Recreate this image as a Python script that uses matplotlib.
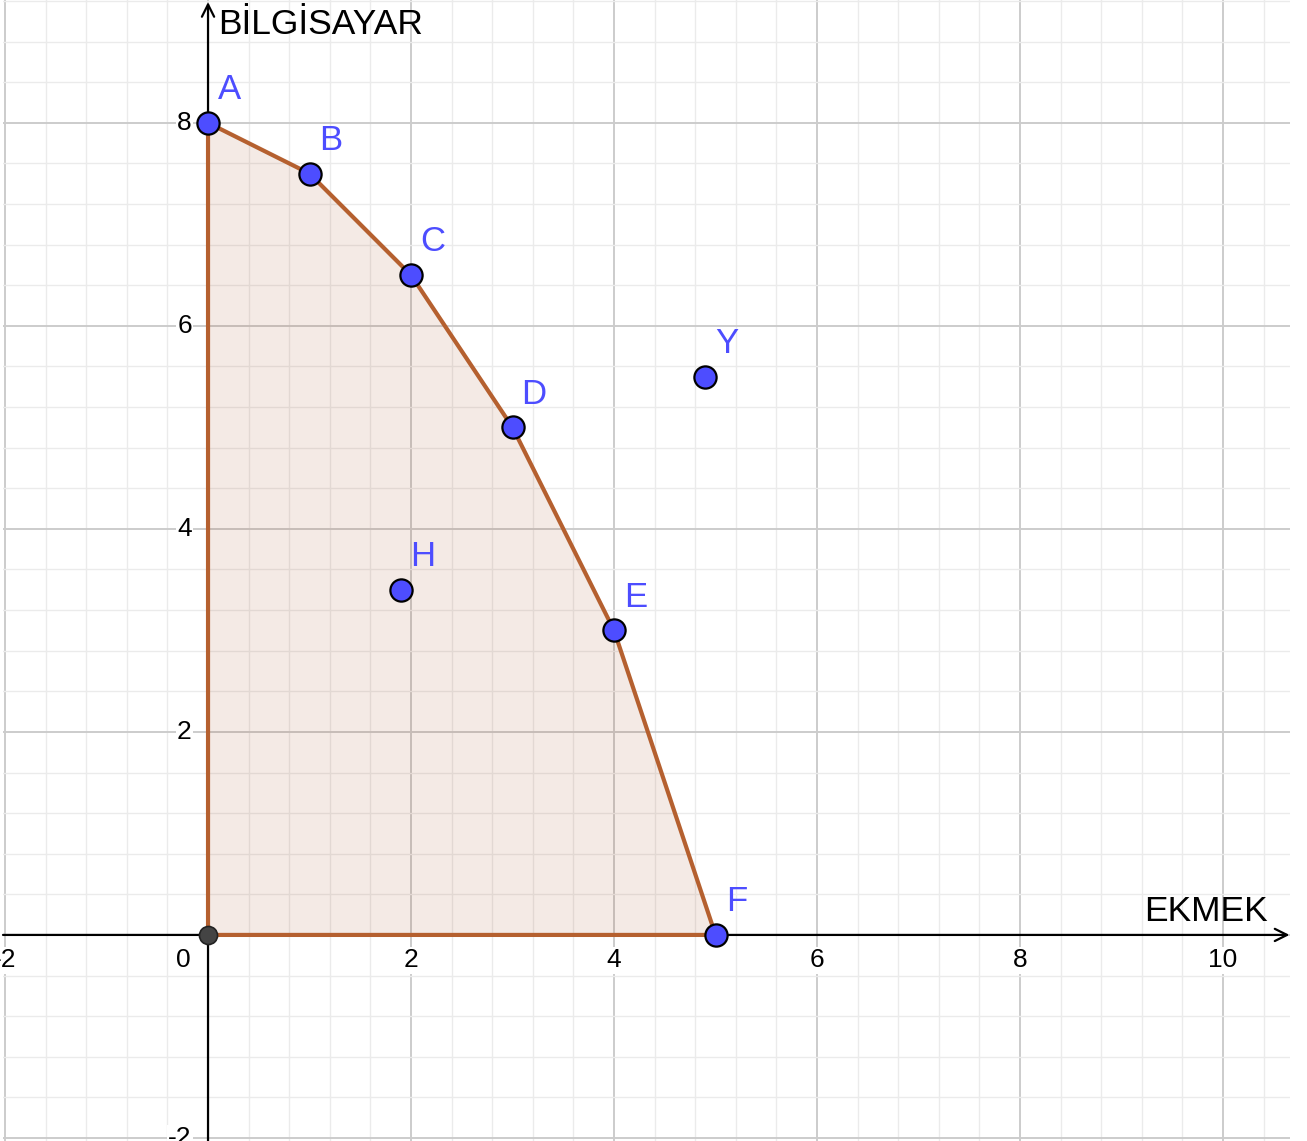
import matplotlib
matplotlib.use("Agg")
import matplotlib.pyplot as plt
from matplotlib.ticker import MultipleLocator
import numpy as np

# ---- data ----
frontier_labels = ["A", "B", "C", "D", "E", "F"]
frontier_x = [0, 1, 2, 3, 4, 5]
frontier_y = [8, 7.5, 6.5, 5, 3, 0]
extra_labels = ["H", "Y"]
extra_x = [1.9, 4.9]
extra_y = [3.4, 5.5]
origin = (0, 0)
x_tick_labels = [-2, 0, 2, 4, 6, 8, 10]
y_tick_labels = [-2, 2, 4, 6, 8]
x_axis_title = "EKMEK"
y_axis_title = "BİLGİSAYAR"

plt.rcParams['font.family'] = ['Liberation Sans', 'DejaVu Sans']

W, H = 1307, 1141
fig = plt.figure(figsize=(W / 100, H / 100), dpi=100)
ax = fig.add_axes([3 / W, 0, 1287 / W, 1])
ax.set_xlim(-2.02, 10.66)
ax.set_ylim(-2.03, 9.21)
ax.set_facecolor("white")
for s in ax.spines.values():
    s.set_visible(False)

ax.xaxis.set_major_locator(MultipleLocator(2))
ax.yaxis.set_major_locator(MultipleLocator(2))
ax.xaxis.set_minor_locator(MultipleLocator(0.4))
ax.yaxis.set_minor_locator(MultipleLocator(0.4))
ax.grid(which="minor", color="#ebebeb", lw=1.0, zorder=0)
ax.grid(which="major", color="#cccccc", lw=1.4, zorder=0)
ax.tick_params(which="both", length=0, labelbottom=False, labelleft=False)
ax.set_axisbelow(True)

# polygon (frontier + origin)
poly_x = frontier_x + [origin[0]]
poly_y = frontier_y + [origin[1]]
ax.fill(poly_x, poly_y, facecolor="#993300", alpha=0.1, edgecolor="none", zorder=1)
ax.plot(poly_x + [poly_x[0]], poly_y + [poly_y[0]], color="#b5602f", lw=3.0,
        solid_joinstyle="round", zorder=3)

# axes with arrows
xmin, xmax = ax.get_xlim()
ymin, ymax = ax.get_ylim()
ax.annotate("", xy=(xmax - 0.005, 0), xytext=(xmin, 0),
            arrowprops=dict(arrowstyle="->", color="black", lw=1.6,
                            mutation_scale=22, shrinkA=0, shrinkB=0), zorder=2)
ax.annotate("", xy=(0, ymax - 0.02), xytext=(0, ymin),
            arrowprops=dict(arrowstyle="->", color="black", lw=1.6,
                            mutation_scale=22, shrinkA=0, shrinkB=0), zorder=2)

# tick labels
bb = dict(facecolor="white", edgecolor="none", pad=1.0)
for v in x_tick_labels:
    xx = v if v != 0 else -0.24
    ax.text(xx, -0.25, f"{v}", ha="center", va="center", fontsize=19,
            color="black", bbox=bb, zorder=4)
for v in y_tick_labels:
    ax.text(-0.16, v, f"{v}", ha="right", va="center", fontsize=19,
            color="black", bbox=bb, zorder=4)

# axis titles
ax.text(0.1, 8.97, y_axis_title, ha="left", va="center", fontsize=25.5, color="black", zorder=4)
ax.text(10.44, 0.23, x_axis_title, ha="right", va="center", fontsize=25.5, color="black", zorder=4)

# points
blue = "#4d4dff"
ax.plot(frontier_x, frontier_y, "o", ms=16, mfc=blue, mec="black", mew=1.6,
        ls="none", zorder=5)
ax.plot(extra_x, extra_y, "o", ms=16, mfc=blue, mec="black", mew=1.6,
        ls="none", zorder=5)
ax.plot([origin[0]], [origin[1]], "o", ms=13, mfc="#444444", mec="#222222", mew=1.2,
        zorder=5)

for lab, x, y in zip(frontier_labels + extra_labels, frontier_x + extra_x, frontier_y + extra_y):
    ax.annotate(lab, (x, y), xytext=(15.5, 24), textcoords="offset points",
                ha="center", va="center", fontsize=25, color=blue, zorder=6)

fig.savefig("out.png", dpi=100, facecolor="white")
